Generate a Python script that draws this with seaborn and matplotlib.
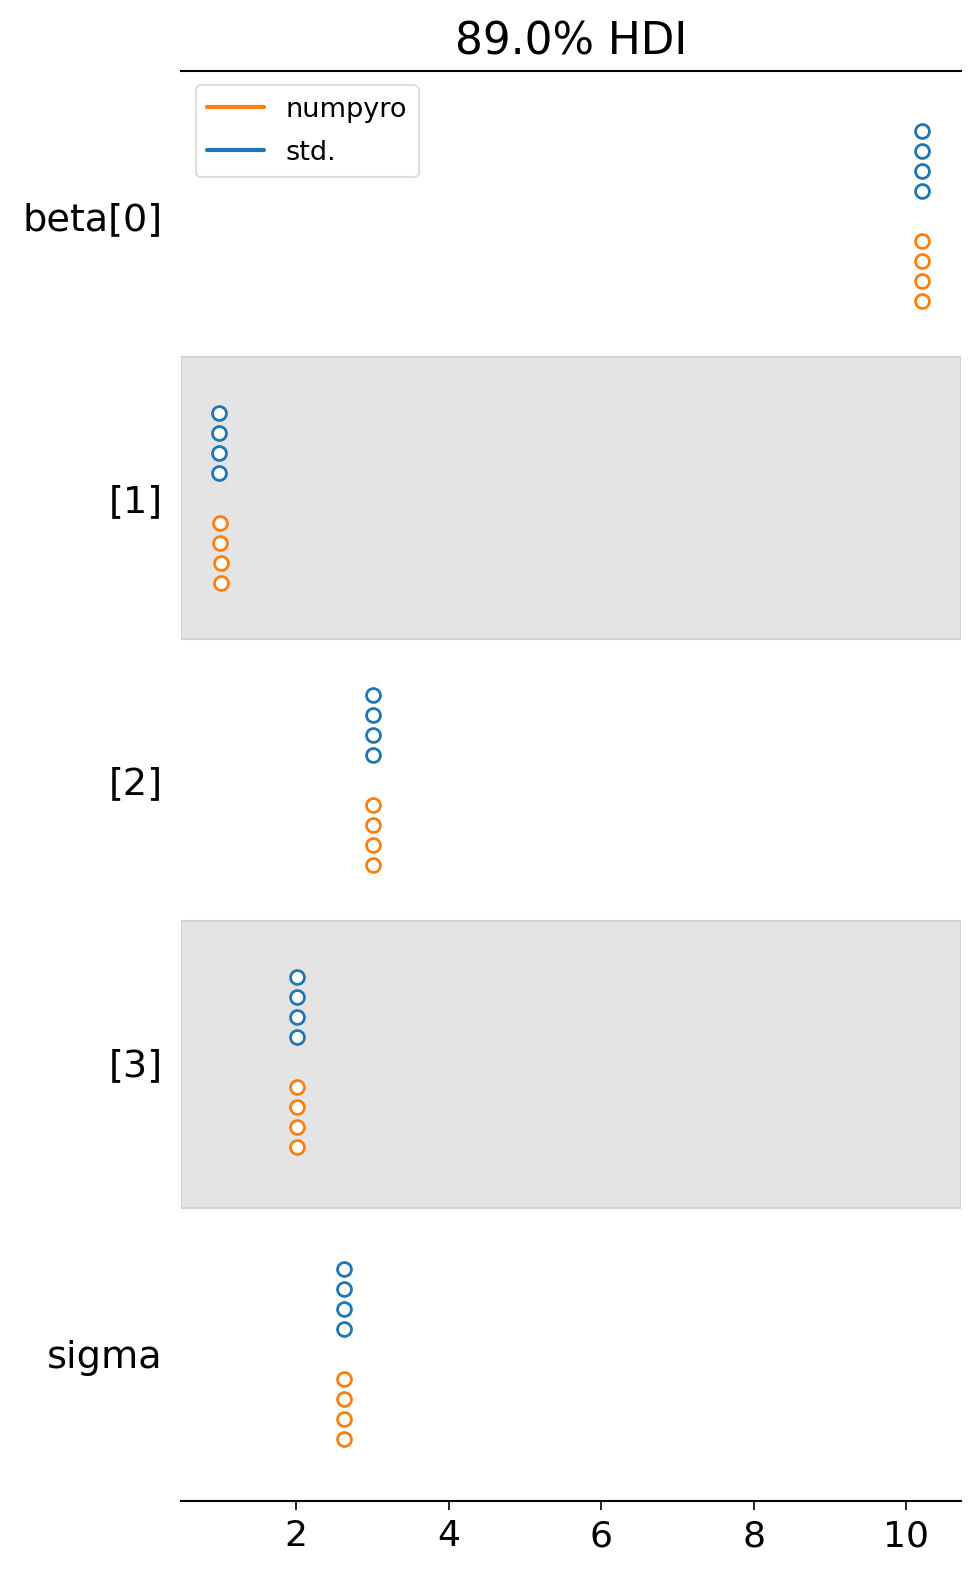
import numpy as np
import pandas as pd
import matplotlib
matplotlib.use("Agg")
import matplotlib.pyplot as plt
import seaborn as sns

sns.set_style("white")
plt.rcParams['font.family'] = ['DejaVu Sans']
plt.rcParams['text.color'] = 'black'
plt.rcParams['xtick.color'] = 'black'
plt.rcParams['ytick.color'] = 'black'
plt.rcParams['axes.labelcolor'] = 'black'

# Data
labels = ["beta[0]", "[1]", "[2]", "[3]", "sigma"]
var_group = [0, 0, 0, 0, 1]          # beta vs sigma
models = ["numpyro", "std."]
colors = {"numpyro": "#ff7f0e", "std.": "#1f77b4"}
# chain means (4 chains each)
std_vals = [
    [10.21, 10.21, 10.21, 10.21],
    [0.995, 0.995, 0.995, 0.995],
    [3.015, 3.015, 3.015, 3.015],
    [2.013, 2.013, 2.013, 2.013],
    [2.632, 2.632, 2.632, 2.632],
]
numpyro_vals = [
    [10.21, 10.21, 10.21, 10.21],
    [1.0, 1.0, 1.01, 1.01],
    [3.015, 3.015, 3.015, 3.015],
    [2.013, 2.013, 2.013, 2.013],
    [2.632, 2.632, 2.632, 2.632],
]
ticks = [2, 4, 6, 8, 10]
title = "89.0% HDI"

# layout (in layout units, increasing downward)
row_pitch = 282.0
var_gap = 9.0
chain_step = 20.0
model_gap = 50.0
n_chain = 4
span = (n_chain - 1) * chain_step * 2 + model_gap  # 170

rows = []
start = 0.0
starts = []
for i, lab in enumerate(labels):
    if i > 0:
        start += row_pitch + (var_gap if var_group[i] != var_group[i - 1] else 0)
    starts.append(start)
    for c in range(n_chain):
        rows.append(dict(label=lab, model="std.", y=start + c * chain_step, x=std_vals[i][c]))
        rows.append(dict(label=lab, model="numpyro",
                         y=start + (n_chain - 1) * chain_step + model_gap + c * chain_step,
                         x=numpyro_vals[i][c]))
df = pd.DataFrame(rows)

fig = plt.figure(figsize=(9.8, 15.78), dpi=100)
ax = fig.add_axes([0.1844, 0.049, 0.9806 - 0.1844, 0.9552 - 0.049])

# bands
for i in range(len(labels)):
    if i % 2 == 1:
        top = (starts[i - 1] + span + starts[i]) / 2
        bot = (starts[i] + span + starts[i + 1]) / 2
        ax.axhspan(top, bot, facecolor="#e4e4e4", edgecolor="#d2d2d2", linewidth=1.5, zorder=0)

for m in ["std.", "numpyro"]:
    sub = df[df.model == m]
    sns.scatterplot(data=sub, x="x", y="y", ax=ax, marker="o", s=100,
                    facecolor="white", edgecolor=colors[m], linewidth=2.0, zorder=3, legend=False)

handles = [plt.Line2D([], [], color=colors[m], lw=3) for m in models]
leg = ax.legend(handles, models, loc="upper left", fontsize=19.5, frameon=True,
                bbox_to_anchor=(0.0196, 0.9897), borderaxespad=0, handlelength=2.1,
                borderpad=0.42, labelspacing=0.62, handletextpad=0.8)
leg.get_frame().set_edgecolor("#d6d6d6")
leg.get_frame().set_linewidth(1.5)

ax.set_xlim(0.488, 10.72)
ax.set_ylim(starts[-1] + span + 62, -60)
ax.set_xticks(ticks)
ax.set_xticklabels([str(t) for t in ticks])
centers = [s + span / 2 for s in starts]
ax.set_yticks(centers)
ax.set_yticklabels(labels)
ax.tick_params(axis="y", length=0, labelsize=27.5, pad=13)
ax.tick_params(axis="x", length=6.5, width=1.2, labelsize=26, direction="out", bottom=True, pad=7)
ax.set_xlabel("")
ax.set_ylabel("")
for s in ["left", "right"]:
    ax.spines[s].set_visible(False)
for s in ["top", "bottom"]:
    ax.spines[s].set_visible(True)
    ax.spines[s].set_linewidth(1.5)
    ax.spines[s].set_color("black")
ax.set_title(title, fontsize=31.5, pad=12)

fig.savefig("out.png", dpi=100)
